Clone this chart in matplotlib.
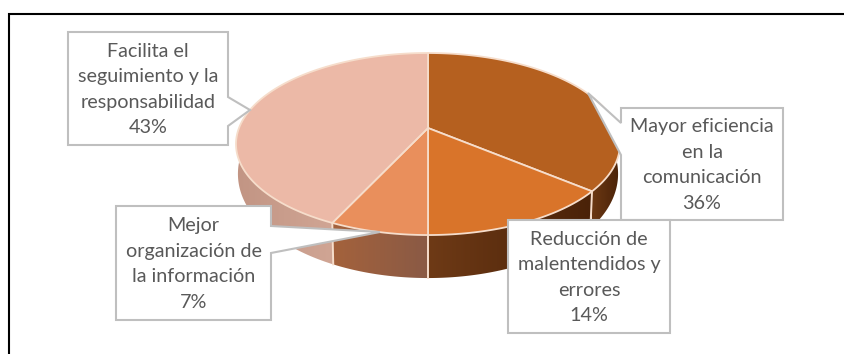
"""Perspective 3D pie of perceived benefits, drawn in pixel coordinates."""

import matplotlib
matplotlib.use("Agg")
import matplotlib.pyplot as plt
import numpy as np
from matplotlib.colors import to_rgb
from matplotlib.patches import Polygon

LABELS = [
    "Mayor eficiencia\nen la\ncomunicación\n36%",
    "Reducción de\nmalentendidos y\nerrores\n14%",
    "Mejor\norganización de\nla información\n7%",
    "Facilita el\nseguimiento y la\nresponsabilidad\n43%",
]
VALUES = [36, 14, 7, 43]
TOP_COLORS = ["#B5601F", "#D9742A", "#E98F5C", "#ECB9A7"]
WALL_LEFT = ["#6B3813", "#6E3A16", "#A4623C", "#C29584"]
WALL_RIGHT = ["#4A2208", "#4A2208", "#8A5A45", "#D0A594"]

# layout in pixels of the 844x354 picture
WIDTH, HEIGHT = 844, 354
CX, CY = 428, 128
RX, RY, PERSP = 189, 88.2, -0.176
DEPTH_MID, DEPTH_TILT = 27, 16
EDGE = "#F6DDCB"
BOX_EDGE = "#BFBFBF"
BOXES = [(621, 108, 783, 220), (508, 220, 670, 333), (116, 206, 271, 320), (68, 32, 228, 145)]
# tip of each callout, then the two points where it leaves the box
CALLOUTS = [
    ((588, 93), (621, 155), (621, 123)),
    None,
    ((380, 232), (271, 253), (271, 226)),
    ((250, 110), (228, 126), (228, 97)),
]


def project(angle, lower=False):
    """Map a clockwise-from-top pie angle to pixels on the top or bottom disc."""
    u, s = np.sin(angle), -np.cos(angle)
    w = 1 + PERSP * s
    x, y = CX + RX * u / w, CY + RY * s / w
    if lower:
        x = CX + (x - CX) * 0.99
        y = y + DEPTH_MID + DEPTH_TILT * s
    return x, y


fig = plt.figure(figsize=(WIDTH / 100, HEIGHT / 100), dpi=100, facecolor="white")
ax = fig.add_axes([0, 0, 1, 1])

fractions = np.cumsum([0] + VALUES) / sum(VALUES) * 2 * np.pi
starts, ends = fractions[:-1], fractions[1:]

# side wall, only the part of each slice facing the viewer
for start, end, left, right in zip(starts, ends, WALL_LEFT, WALL_RIGHT):
    lo, hi = max(start, np.pi / 2 * 0.94), min(end, 3 * np.pi / 2 * 1.02)
    if lo >= hi:
        continue
    angles = np.linspace(lo, hi, 80)
    x, y = project(angles)
    xb, yb = project(angles, lower=True)
    wall = Polygon(np.r_[np.c_[x, y], np.c_[xb, yb][::-1]], closed=True, fc="none", ec="none", zorder=1)
    ax.add_patch(wall)
    x0, x1 = x.min(), x.max()
    ramp = np.linspace(to_rgb(left), to_rgb(right), 64)[None, :, :]
    img = ax.imshow(ramp, extent=(x0, x1, HEIGHT, 0), aspect="auto", zorder=1, interpolation="bilinear")
    img.set_clip_path(wall)

ax.set_xlim(0, WIDTH)
ax.set_ylim(HEIGHT, 0)
ax.axis("off")
ax.set_position([0, 0, 1, 1])

# pale seams on the wall where slices meet
for boundary in starts:
    x, y = project(boundary)
    if y > CY + 20:
        xb, yb = project(boundary, lower=True)
        ax.plot([x, xb], [y, yb], color=EDGE, lw=1.4, zorder=2)

# top face
for start, end, color in zip(starts, ends, TOP_COLORS):
    angles = np.linspace(start, end, 120)
    x, y = project(angles)
    ax.add_patch(Polygon(np.r_[[[CX, CY]], np.c_[x, y]], closed=True, fc=color, ec=EDGE, lw=1.3,
                         joinstyle="round", zorder=3))

# callout boxes with their pointers
for label, (x0, y0, x1, y1), callout in zip(LABELS, BOXES, CALLOUTS):
    outline = [(x0, y0), (x1, y0), (x1, y1), (x0, y1)]
    if callout is not None:
        tip, lower, upper = callout
        if lower[0] == x0:
            outline = [(x0, y0), (x1, y0), (x1, y1), (x0, y1), lower, tip, upper]
        else:
            outline = [(x0, y0), (x1, y0), upper, tip, lower, (x1, y1), (x0, y1)]
    ax.add_patch(Polygon(outline, closed=True, fc="white", ec=BOX_EDGE, lw=1.5, zorder=5))
    ax.text((x0 + x1) / 2, (y0 + y1) / 2 + 1, label, ha="center", va="center", fontsize=14.2,
            family="Lato", color="#595959", linespacing=1.6, zorder=6)

# only the top and left edges of the picture frame show
ax.plot([WIDTH, 8.5, 8.5], [13.5, 13.5, HEIGHT], color="black", lw=1.5, solid_joinstyle="miter", zorder=7)

fig.savefig("out.png", dpi=100)
